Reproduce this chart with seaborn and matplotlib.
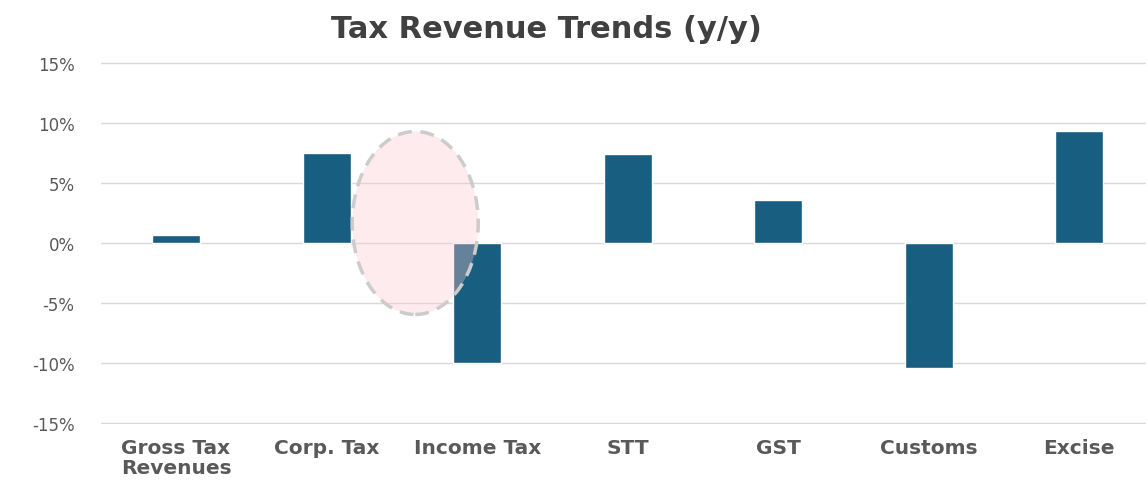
import matplotlib
matplotlib.use("Agg")
import matplotlib.pyplot as plt
from matplotlib.patches import Ellipse
from matplotlib.ticker import FuncFormatter
import seaborn as sns
import pandas as pd

categories = ["Gross Tax\nRevenues", "Corp. Tax", "Income Tax", "STT", "GST", "Customs", "Excise"]
values = [0.7, 7.5, -10.0, 7.4, 3.6, -10.4, 9.3]
yticks = [-15, -10, -5, 0, 5, 10, 15]

sns.set_theme(style="white")
plt.rcParams['font.family'] = ['DejaVu Sans']

fig = plt.figure(figsize=(11.48, 4.81), dpi=100)
ax = fig.add_axes([101/1148, 1 - 425/481, (1146 - 101)/1148, (425 - 63)/481])

df = pd.DataFrame({"cat": categories, "val": values})
sns.barplot(data=df, x="cat", y="val", color="#175e81", saturation=1, width=0.32, ax=ax)

ax.set_ylim(-15.08, 15.08)
ax.set_yticks(yticks)
ax.yaxis.set_major_formatter(FuncFormatter(lambda v, p: f"{int(v)}%"))
ax.set_xlim(-0.5, -0.5 + (1146 - 101) / 150.5)
ax.grid(axis="y", color="#d9d9d9", linewidth=1)
ax.set_axisbelow(True)
for s in ax.spines.values():
    s.set_visible(False)
ax.set_xlabel("")
ax.set_ylabel("")
ax.tick_params(axis="both", length=0)
ax.tick_params(axis="y", labelsize=12, labelcolor="#595959", pad=19)
ax.tick_params(axis="x", labelsize=14.5, labelcolor="#595959", pad=10)
for lbl in ax.get_xticklabels():
    lbl.set_fontweight("bold")
    lbl.set_linespacing(1.05)
    lbl.set_va("top")
    lbl.set_multialignment("left")

ell = Ellipse((1.588, 1.67), 0.837, 15.25, facecolor=(0.98, 0.78, 0.80, 0.35),
              edgecolor="#cccccc", linewidth=2.5, linestyle=(0, (4, 2.5)), zorder=5)
ax.add_patch(ell)

fig.text(546/1148, 1 - 30/481, "Tax Revenue Trends (y/y)", ha="center", va="center",
         fontsize=22, fontweight="bold", color="#404040")

fig.savefig("out.png", dpi=100)
